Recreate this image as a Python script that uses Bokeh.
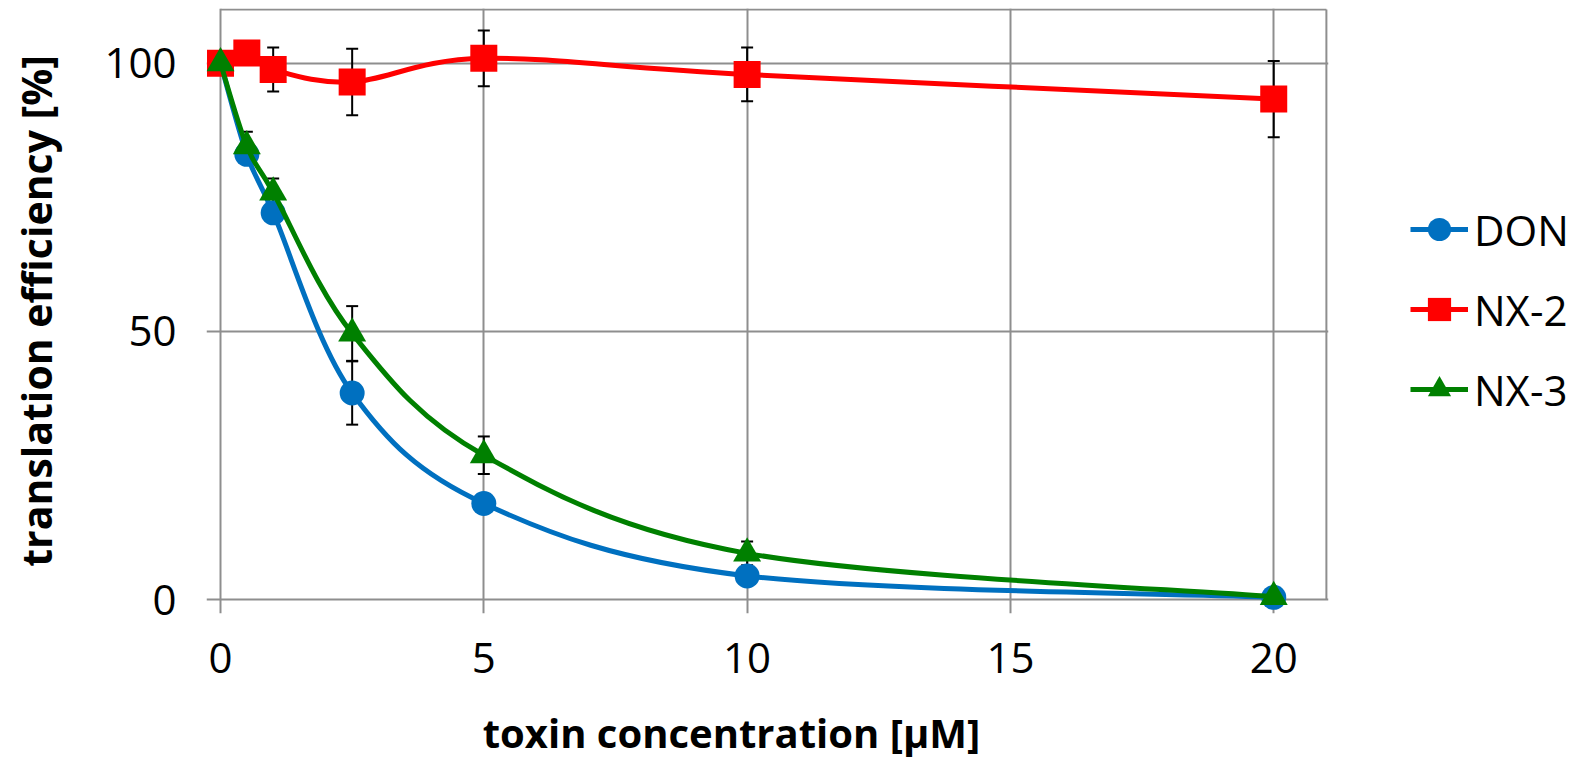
import numpy as np
from bokeh.plotting import figure
from bokeh.models import Legend, LegendItem, Label, Range1d, FixedTicker
from bokeh.layouts import row, column
from bokeh.embed import file_html
from bokeh.resources import INLINE

# ---------------- data ----------------
concentration = [0, 0.5, 1, 2.5, 5, 10, 20]
don = [100, 83.0, 72.1, 38.5, 17.9, 4.4, 0.4]
don_err = [0, 1.0, 1.0, 5.9, 1.5, 1.0, 0.3]
nx2 = [100, 101.9, 98.8, 96.5, 100.9, 97.9, 93.3]
nx2_err = [0, 1.5, 4.1, 6.2, 5.2, 5.0, 7.1]
nx3 = [100, 84.5, 75.9, 49.6, 26.9, 8.6, 0.5]
nx3_err = [0, 2.7, 2.6, 5.1, 3.5, 2.2, 0.3]

series_names = ["DON", "NX-2", "NX-3"]
x_ticks = [0, 5, 10, 15, 20]
y_ticks = [0, 50, 100]
x_title = "toxin concentration [µM]"
y_title = "translation efficiency [%]"

# ---------------- style ----------------
X_MAX, Y_MAX = 21.0, 110.0
GRID = "#8e8e8e"
FONT = "Open Sans"
colors = ["#0070C0", "#FF0000", "#008000"]
markers = ["circle", "square", "triangle"]
msizes = [25, 27, 28]

MAIN_W, MAIN_H = 1338, 692
TOTAL_W, TOTAL_H = 1586, 761


def smooth_segments(xs, ys):
    """Bezier control points (Catmull-Rom style, as in Excel's smoothed lines)."""
    x = np.asarray(xs, float)
    y = np.asarray(ys, float)
    n = len(x)
    xp = np.concatenate([[x[0]], x, [x[-1]]])
    yp = np.concatenate([[y[0]], y, [y[-1]]])
    i = np.arange(n - 1)
    cx0 = xp[i + 1] + (xp[i + 2] - xp[i]) / 6
    cy0 = yp[i + 1] + (yp[i + 2] - yp[i]) / 6
    cx1 = xp[i + 2] - (xp[i + 3] - xp[i + 1]) / 6
    cy1 = yp[i + 2] - (yp[i + 3] - yp[i + 1]) / 6
    return dict(x0=x[:-1], y0=y[:-1], x1=x[1:], y1=y[1:],
                cx0=cx0, cy0=cy0, cx1=cx1, cy1=cy1)


p = figure(width=MAIN_W, height=MAIN_H,
           x_range=Range1d(-0.266, 21.04), y_range=Range1d(-2.61, 110.19),
           output_backend="svg", toolbar_location=None,
           min_border_left=206, min_border_right=10,
           min_border_top=8, min_border_bottom=MAIN_H - 613)

p.outline_line_color = None

for ax, ticks in ((p.xaxis[0], x_ticks), (p.yaxis[0], y_ticks)):
    ax.ticker = FixedTicker(ticks=ticks)
    ax.axis_line_color = None
    ax.major_tick_line_color = None
    ax.minor_tick_line_color = None
    ax.major_tick_out = 0
    ax.major_tick_in = 0
    ax.major_label_text_font = FONT
    ax.major_label_text_font_size = "42px"
    ax.major_label_text_color = "black"
p.xaxis[0].major_label_standoff = 29
p.yaxis[0].major_label_standoff = 30

p.yaxis[0].axis_label = y_title
p.yaxis[0].axis_label_text_font = FONT
p.yaxis[0].axis_label_text_font_style = "bold"
p.yaxis[0].axis_label_text_font_size = "41px"
p.yaxis[0].axis_label_text_color = "black"
p.yaxis[0].axis_label_standoff = 37

p.xgrid[0].ticker = FixedTicker(ticks=x_ticks)
p.ygrid[0].ticker = FixedTicker(ticks=y_ticks)
for g in (p.xgrid[0], p.ygrid[0]):
    g.grid_line_color = GRID
    g.grid_line_width = 2

# top and right border of the plot area
p.segment(x0=[0, X_MAX], y0=[Y_MAX, 0], x1=[X_MAX, X_MAX], y1=[Y_MAX, Y_MAX],
          line_color=GRID, line_width=2)

all_vals = [don, nx2, nx3]
all_errs = [don_err, nx2_err, nx3_err]

# error bars first (beneath every series' markers)
for vals, errs in zip(all_vals, all_errs):
    v = np.asarray(vals, float)
    e = np.asarray(errs, float)
    lo = v - e
    hi = v + e
    p.segment(x0=concentration, y0=lo, x1=concentration, y1=hi,
              line_color="black", line_width=2)
    p.scatter(x=concentration + concentration, y=list(lo) + list(hi),
              marker="dash", size=12, line_color="black", line_width=2)

# legend panel (separate figure so the legend sits outside the plot frame)
pl = figure(width=TOTAL_W - MAIN_W, height=MAIN_H,
            x_range=Range1d(0, 1), y_range=Range1d(0, 1),
            output_backend="svg", toolbar_location=None,
            x_axis_type=None, y_axis_type=None, min_border=0)
pl.outline_line_color = None
pl.grid.visible = False

items = []
for name, vals, col, mk, ms in zip(series_names, all_vals, colors, markers, msizes):
    seg = smooth_segments(concentration, vals)
    p.bezier(line_color=col, line_width=5, line_cap="round", **seg)
    p.scatter(x=concentration, y=vals, marker=mk, size=ms,
              fill_color=col, line_color=None)
    # legend swatches (no data points of their own)
    lr = pl.line(x=[np.nan], y=[np.nan], line_color=col, line_width=5)
    mr = pl.scatter(x=[np.nan], y=[np.nan], marker=mk, size=ms,
                    fill_color=col, line_color=None)
    items.append(LegendItem(label=name, renderers=[lr, mr]))

legend = Legend(items=items, location=(72, 194), orientation="vertical",
                glyph_width=58, glyph_height=60, label_height=60, spacing=20,
                label_standoff=6, padding=0, margin=0,
                border_line_color=None, background_fill_alpha=0,
                label_text_font=FONT, label_text_font_size="42px",
                label_text_color="black")
pl.add_layout(legend, "center")

# x-axis title strip
pb = figure(width=TOTAL_W, height=TOTAL_H - MAIN_H,
            x_range=Range1d(0, 1), y_range=Range1d(0, 1),
            output_backend="svg", toolbar_location=None,
            x_axis_type=None, y_axis_type=None, min_border=0)
pb.outline_line_color = None
pb.grid.visible = False
pb.add_layout(Label(x=731, y=29, x_units="screen", y_units="screen",
                    text=x_title, text_align="center",
                    text_baseline="alphabetic", text_font=FONT,
                    text_font_style="bold", text_font_size="40px",
                    text_color="black"))

layout = column(row(p, pl), pb)
open("out.html", "w").write(file_html(layout, INLINE))
